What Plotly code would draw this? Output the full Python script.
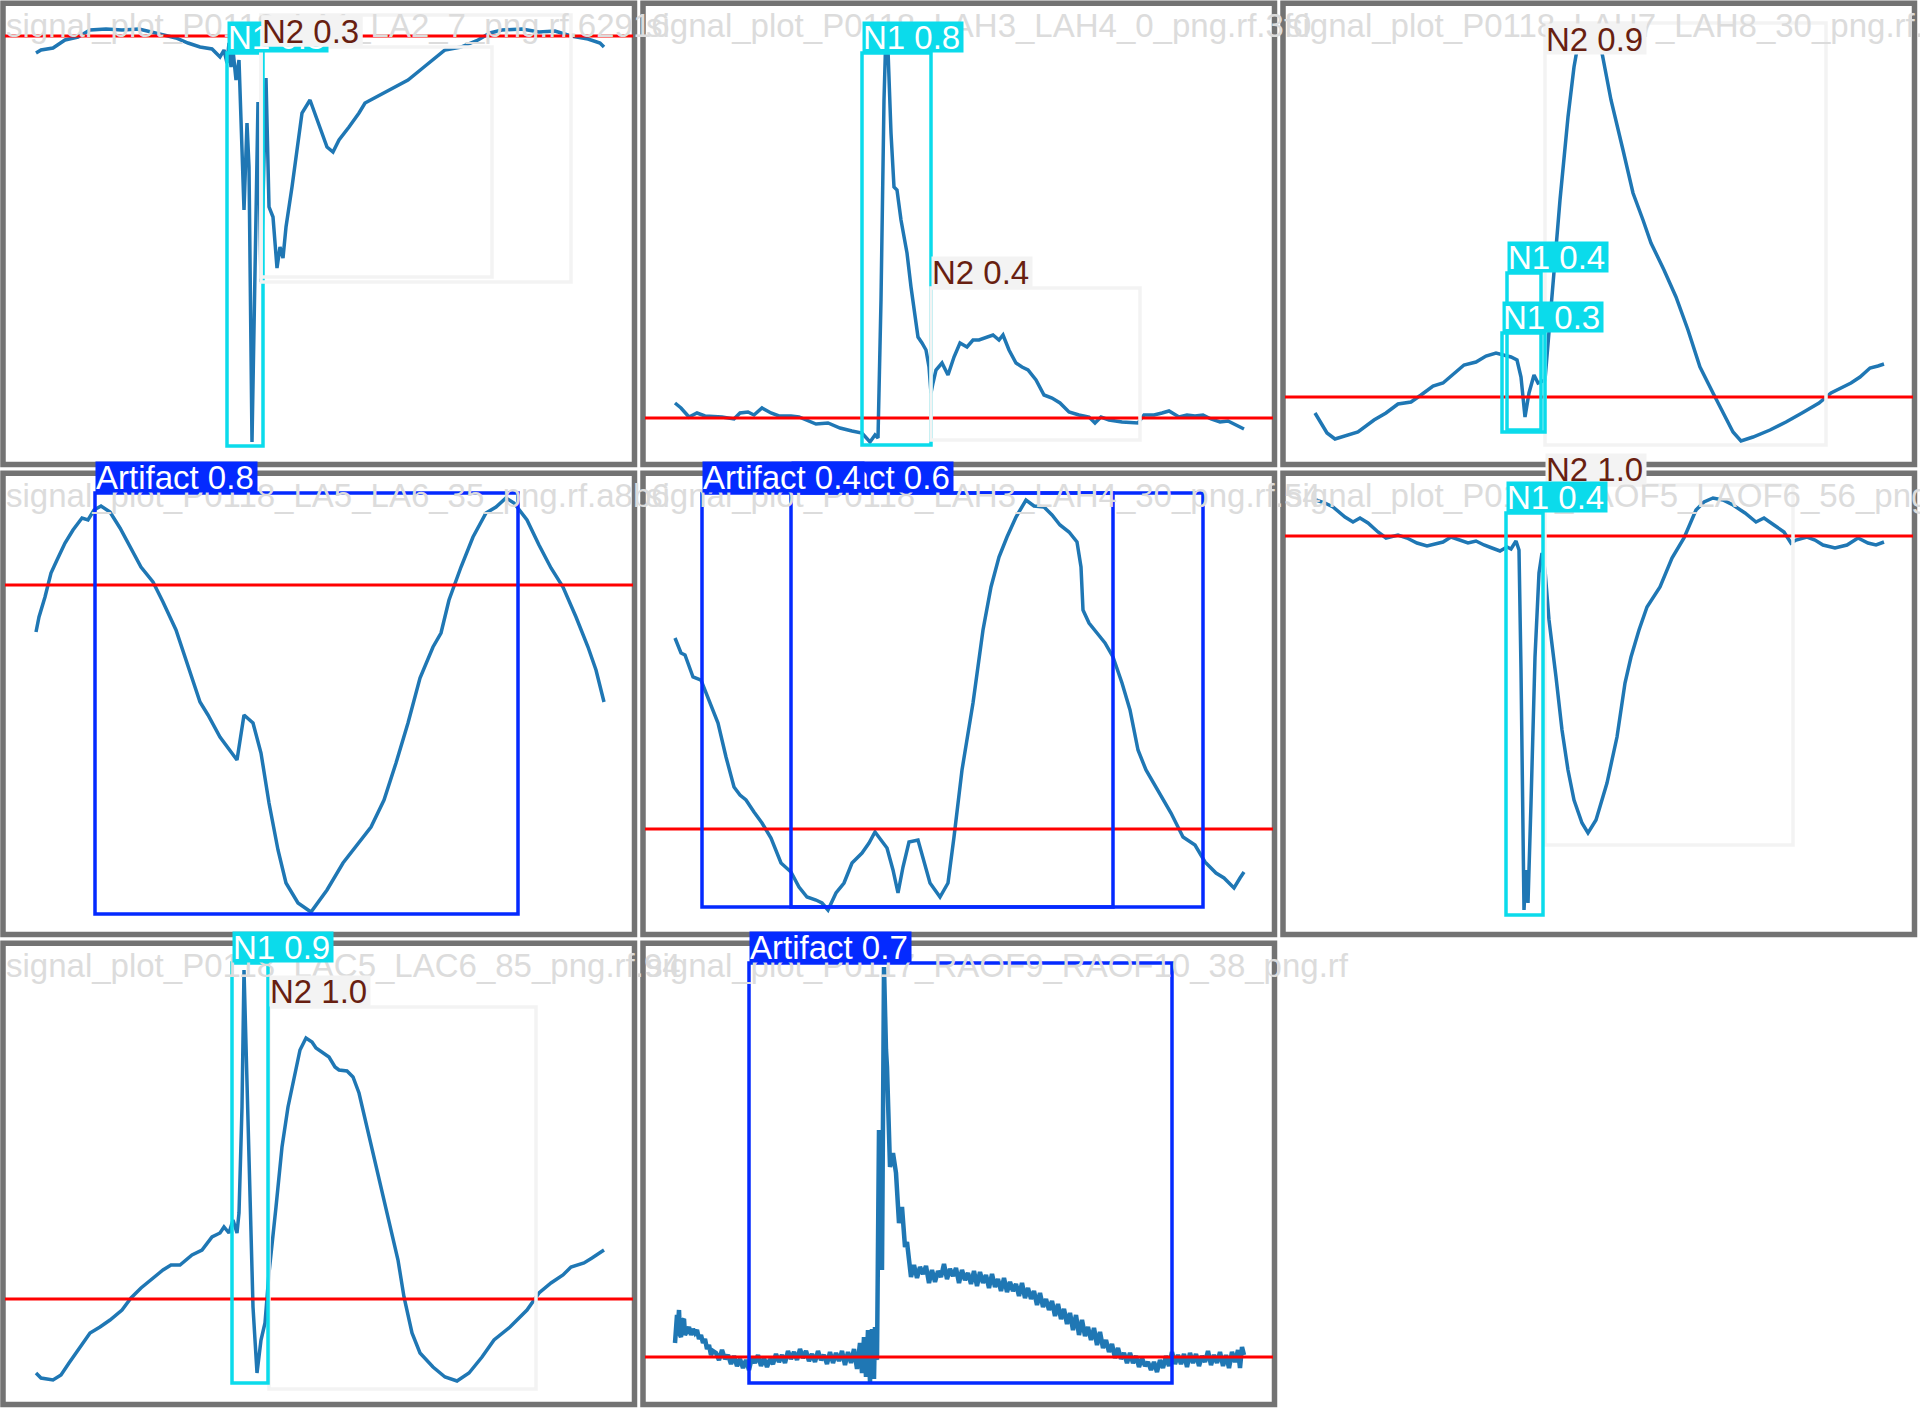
import plotly.graph_objects as go

# ---------------- data ----------------
file_names = [
    "signal_plot_P0118_LA1_LA2_7_png.rf.62916",
    "signal_plot_P0118_LAH3_LAH4_0_png.rf.3f0",
    "signal_plot_P0118_LAH7_LAH8_30_png.rf.c3",
    "signal_plot_P0118_LA5_LA6_35_png.rf.a8b6",
    "signal_plot_P0118_LAH3_LAH4_30_png.rf.54",
    "signal_plot_P0118_LAOF5_LAOF6_56_png.rf.",
    "signal_plot_P0118_LAC5_LAC6_85_png.rf.94",
    "signal_plot_P0117_RAOF9_RAOF10_38_png.rf",
]

# sample position (t) and amplitude relative to the red baseline (v)
p1_t = [36,41,53,65,78,90,106,122,139,151,163,176,188,200,212,220,224,227,229,231,233,236,239,244,247,249,252,255,258,261,266,269,273,277,280,283,286,292,296,302,310,316,322,327,333,339,349,359,365,380,396,408,424,445,461,478,490,502,522,539,555,571,588,600,604]
p1_v = [-17,-14,-12,-4,-1,6,7,6,7,4,1,-2,-7,-11,-13,-21,-14,-27,-7,-31,-14,-44,-24,-174,-87,-131,-406,-231,-66,-246,-42,-171,-181,-232,-211,-222,-191,-151,-121,-77,-64,-81,-99,-111,-116,-104,-91,-77,-67,-59,-51,-44,-31,-14,-11,-4,3,6,7,4,5,0,-3,-7,-11]

p2_t = [35,41,49,57,65,82,94,100,108,114,122,131,139,151,159,176,188,200,212,222,230,235,238,241,244,246,248,251,254,257,261,267,271,278,282,286,289,291,293,296,302,308,314,320,327,333,339,347,353,359,363,369,376,382,388,396,404,412,420,429,439,449,455,461,469,482,498,504,514,522,529,539,547,555,563,571,580,588,596,604]
p2_v = [15,10,1,5,2,1,-1,5,6,3,10,5,2,2,1,-6,-5,-10,-13,-15,-24,-17,-20,118,318,388,368,285,231,228,198,165,131,81,75,68,51,25,35,48,55,43,61,75,71,78,78,81,83,78,83,68,55,51,48,38,23,20,15,6,3,1,-5,1,-2,-4,-5,3,3,5,7,1,3,2,3,-1,-4,-3,-7,-11]

p3_t = [35,41,47,55,65,78,94,106,118,131,141,153,163,176,184,196,206,216,224,231,237,241,245,249,254,258,265,271,280,288,294,297,310,322,331,343,353,363,371,384,396,408,420,433,445,453,461,473,490,506,522,539,551,563,571,580,590,598,604]
p3_v = [-16,-26,-36,-42,-39,-35,-23,-16,-7,-5,2,11,14,25,32,35,41,44,42,40,37,20,-20,4,22,14,17,90,197,280,330,347,362,344,297,247,204,177,154,127,100,67,30,4,-20,-35,-44,-40,-33,-25,-16,-6,4,10,14,20,29,31,33]

p4_t = [36,39,45,51,57,65,73,82,88,94,101,110,120,131,141,153,163,176,186,200,208,220,237,244,253,261,269,278,286,298,311,327,343,359,371,384,396,408,420,433,441,449,461,473,486,496,506,514,527,539,551,563,576,588,596,604]
p4_v = [-47,-32,-12,12,25,42,55,67,65,75,79,73,57,37,18,3,-17,-45,-75,-117,-130,-152,-175,-130,-138,-168,-218,-265,-298,-318,-327,-305,-278,-258,-242,-215,-178,-138,-93,-62,-48,-15,18,48,72,78,87,82,65,40,17,-2,-32,-62,-85,-117]

p5_t = [35,41,45,53,61,69,78,86,94,100,106,114,122,131,141,151,159,167,176,182,188,196,204,212,222,229,235,241,247,253,258,263,269,278,284,290,300,308,314,322,333,343,351,359,367,376,386,394,404,412,420,429,437,441,443,449,457,465,473,482,490,498,506,518,531,543,555,565,576,584,594,600,604]
p5_v = [191,176,174,152,149,129,106,72,42,34,29,17,6,-9,-34,-43,-58,-68,-71,-74,-81,-64,-54,-34,-24,-14,-3,-11,-19,-41,-64,-38,-13,-11,-31,-54,-68,-54,-8,59,126,199,242,272,292,312,329,323,322,314,304,297,287,262,219,206,196,186,172,146,119,79,59,39,16,-8,-16,-33,-44,-49,-59,-49,-43]

p6_t = [36,45,53,65,73,80,88,98,106,118,127,137,147,155,163,171,180,188,196,204,212,220,227,231,236,239,241,243,244,246,248,251,255,259,262,265,269,276,282,288,294,302,308,316,327,337,345,351,359,367,380,392,404,416,424,433,443,453,465,476,484,494,504,511,516,527,535,543,555,567,578,588,596,604]
p6_v = [36,33,29,19,14,18,13,4,-2,1,-2,-7,-10,-8,-6,-1,-4,-7,-5,-9,-12,-15,-11,-13,-5,-14,-134,-301,-374,-334,-367,-267,-121,-37,-17,-34,-84,-141,-194,-234,-264,-287,-297,-284,-247,-201,-147,-121,-94,-71,-51,-22,-2,26,34,38,36,31,23,14,18,11,4,-7,-4,-1,-4,-9,-12,-9,-2,-7,-9,-6]

p7_t = [36,41,53,61,69,78,90,100,110,122,131,141,151,163,171,180,192,202,212,220,224,229,233,237,239,242,244,246,250,253,257,261,265,269,276,282,288,294,300,306,312,316,322,329,335,339,347,353,359,367,376,384,392,398,404,412,420,433,445,457,469,482,494,510,527,539,551,563,571,584,592,600,604]
p7_v = [-74,-79,-81,-76,-64,-51,-34,-28,-21,-11,1,11,19,29,34,34,44,49,62,66,72,66,79,66,86,192,329,259,92,-8,-74,-41,-24,26,92,152,192,222,249,261,257,251,247,242,232,229,228,222,206,172,132,96,62,39,2,-34,-54,-68,-78,-82,-74,-58,-41,-28,-11,6,16,24,32,36,41,46,49]

p8_t = [35,36,37,38,39,40,41,42,44,45,47,49,51,53,55,57,59,61,63,65,67,69,71,73,
        76,79,82,85,88,91,94,97,100,103,106,109,112,115,118,121,124,127,130,133,136,139,142,145,148,151,154,157,160,163,166,169,172,175,178,181,184,187,190,193,196,199,202,205,208,211,214,
        217,220,222,224,226,228,230,232,234,235,237,239,241,242,244,246,247,250,253,256,259,262,265,267,269,271,
        274,277,280,283,286,289,292,295,298,301,304,307,310,313,316,319,322,325,328,331,334,337,340,343,346,349,352,355,358,361,364,367,370,373,376,379,382,385,388,391,394,397,400,403,406,409,412,415,418,421,424,427,430,433,436,439,442,445,448,451,454,457,460,463,466,469,472,475,478,481,484,487,490,493,496,499,502,505,508,511,514,517,520,523,526,529,532,535,538,541,544,547,550,553,556,559,562,565,568,571,574,577,580,583,586,589,592,595,598,600,602,604]
p8_v = [14,35,42,30,47,22,20,36,38,22,26,30,22,28,24,27,18,22,14,18,8,12,2,6,
        4,-3,7,-2,2,-7,1,-9,-2,-11,-3,-13,0,-6,2,-9,-1,-10,-2,-7,3,-5,2,-6,6,-2,5,-3,8,-1,6,-4,3,-5,6,-3,2,-7,5,-6,4,-4,6,-8,5,-6,8,
        -12,14,-16,20,-20,27,-25,28,-22,30,-3,227,177,87,390,307,290,190,204,184,134,150,110,115,97,80,
        92,79,90,83,91,74,87,75,86,80,93,78,88,81,89,74,87,77,84,73,86,71,85,74,82,69,83,70,78,66,79,65,75,66,73,61,74,59,69,58,66,52,64,50,58,47,56,41,53,38,48,33,44,27,42,22,37,21,30,17,29,12,25,9,17,5,13,-1,9,-2,4,-6,4,-6,1,-10,-1,-9,-5,-13,-5,-15,-3,-11,1,-9,5,-7,2,-7,3,-10,4,-6,3,-9,1,-5,6,-8,2,-6,5,-9,2,-11,5,-5,7,-11,10,2]

# detections: (class, confidence, t_start, t_end, v_top, v_bottom)
p1_boxes = [("N1", 0.8, 227, 263, -17, -410), ("N2", 0.3, 261, 492, -11, -241), ("N2", 0.3, 261, 571, 21, -246)]
p2_boxes = [("N1", 0.8, 222, 291, 365, -27), ("N2", 0.4, 291, 500, 130, -22)]
p3_boxes = [("N2", 0.9, 265, 546, 374, -48), ("N1", 0.4, 227, 261, 124, -33), ("N1", 0.3, 222, 265, 64, -35)]
p4_boxes = [("Artifact", 0.8, 95, 518, 92, -329)]
p5_boxes = [("Artifact", 0.6, 151, 473, 336, -78), ("Artifact", 0.4, 62, 563, 336, -78)]
p6_boxes = [("N2", 1.0, 265, 513, 51, -309), ("N1", 0.4, 226, 263, 23, -379)]
p7_boxes = [("N2", 1.0, 269, 536, 292, -90), ("N1", 0.9, 232, 268, 336, -84)]
p8_boxes = [("Artifact", 0.7, 109, 532, 394, -26)]

# amplitude shown at the top edge of each tile (axis range)
tile_top_amp = [36, 418, 397, 115, 359, 66, 359, 417]

# ---------------- styling ----------------
FONT = "Liberation Sans, Arial, sans-serif"
CLASS_COLORS = {"Artifact": "#042AFF", "N1": "#0BDBEB", "N2": "#F3F3F3"}
TEXT_COLORS = {"Artifact": "#FFFFFF", "N1": "#FFFFFF", "N2": "#681F11"}
SIGNAL_COLOR = "#1f77b4"
SIGNAL_WIDTHS = [3.5, 3.5, 3.5, 3.5, 3.5, 3.5, 3.5, 4.5]
BORDER_COLOR = "#737373"
NAME_COLOR = "#DCDCDC"
TILE_W, TILE_H = 640, 470
LABEL_SIZE = 33
NAME_SIZE = 33
LABEL_H = 30
CHAR_EM = {"N": 0.722, " ": 0.278, ".": 0.278, "A": 0.667, "r": 0.333, "t": 0.278,
           "i": 0.222, "f": 0.278, "a": 0.556, "c": 0.5}


def text_width(s, size):
    return sum(CHAR_EM.get(ch, 0.556) for ch in s) * size


panels = [
    (p1_t, p1_v, p1_boxes), (p2_t, p2_v, p2_boxes), (p3_t, p3_v, p3_boxes),
    (p4_t, p4_v, p4_boxes), (p5_t, p5_v, p5_boxes), (p6_t, p6_v, p6_boxes),
    (p7_t, p7_v, p7_boxes), (p8_t, p8_v, p8_boxes),
]

fig = go.Figure()
axes = {}
shapes = []
annotations = []

for i, (t, v, boxes) in enumerate(panels):
    n = i + 1
    c, r = i % 3, i // 3
    xa = "x" if n == 1 else f"x{n}"
    ya = "y" if n == 1 else f"y{n}"
    top = tile_top_amp[i]
    axes["xaxis" if n == 1 else f"xaxis{n}"] = dict(
        domain=[c / 3, (c + 1) / 3], range=[0, TILE_W], visible=False,
        anchor=ya, fixedrange=True)
    axes["yaxis" if n == 1 else f"yaxis{n}"] = dict(
        domain=[1 - (r + 1) / 3, 1 - r / 3], range=[top - TILE_H, top],
        visible=False, anchor=xa, fixedrange=True)

    fig.add_trace(go.Scatter(
        x=t, y=v, mode="lines",
        line=dict(color=SIGNAL_COLOR, width=SIGNAL_WIDTHS[i], shape="linear"),
        xaxis=xa, yaxis=ya, hoverinfo="skip", showlegend=False))

    # tile frame
    shapes.append(dict(type="rect", xref=f"{xa} domain", yref=f"{ya} domain",
                       x0=3 / TILE_W, x1=634.5 / TILE_W,
                       y0=1 - 464.5 / TILE_H, y1=1 - 3.3 / TILE_H,
                       line=dict(color=BORDER_COLOR, width=5.5), layer="below"))
    # red baseline
    shapes.append(dict(type="line", xref=f"{xa} domain", yref=ya,
                       x0=5 / TILE_W, x1=633 / TILE_W, y0=0, y1=0,
                       line=dict(color="#FF0000", width=3)))

    # file name
    annotations.append(dict(xref=f"{xa} domain", yref=f"{ya} domain",
                            x=5 / TILE_W, y=1 - 6 / TILE_H, xanchor="left", yanchor="top",
                            text=file_names[i], showarrow=False, borderpad=0,
                            font=dict(family=FONT, size=NAME_SIZE, color=NAME_COLOR)))

    for cls, conf, x0, x1, vt, vb in sorted(boxes, key=lambda b: -b[1]):
        col = CLASS_COLORS[cls]
        shapes.append(dict(type="rect", xref=xa, yref=ya, x0=x0, x1=x1, y0=vb, y1=vt,
                           line=dict(color=col, width=3.5)))
        label = f"{cls} {conf:.1f}"
        global_top = r * TILE_H + (top - vt)
        outside = global_top >= LABEL_H
        annotations.append(dict(
            xref=xa, yref=ya, x=x0, y=vt, xanchor="left",
            yanchor="bottom" if outside else "top",
            text=label, showarrow=False, borderpad=0, bgcolor=col,
            width=text_width(label, LABEL_SIZE) + 3, height=LABEL_H,
            align="left", valign="middle",
            font=dict(family=FONT, size=LABEL_SIZE, color=TEXT_COLORS[cls])))

fig.update_layout(
    width=1920, height=1410,
    margin=dict(l=0, r=0, t=0, b=0),
    paper_bgcolor="white", plot_bgcolor="rgba(0,0,0,0)",
    showlegend=False, shapes=shapes, annotations=annotations, **axes)

fig.write_html("out.html", config={"displayModeBar": False},
               post_script="document.body.style.margin='0px';document.body.style.overflow='hidden';")
